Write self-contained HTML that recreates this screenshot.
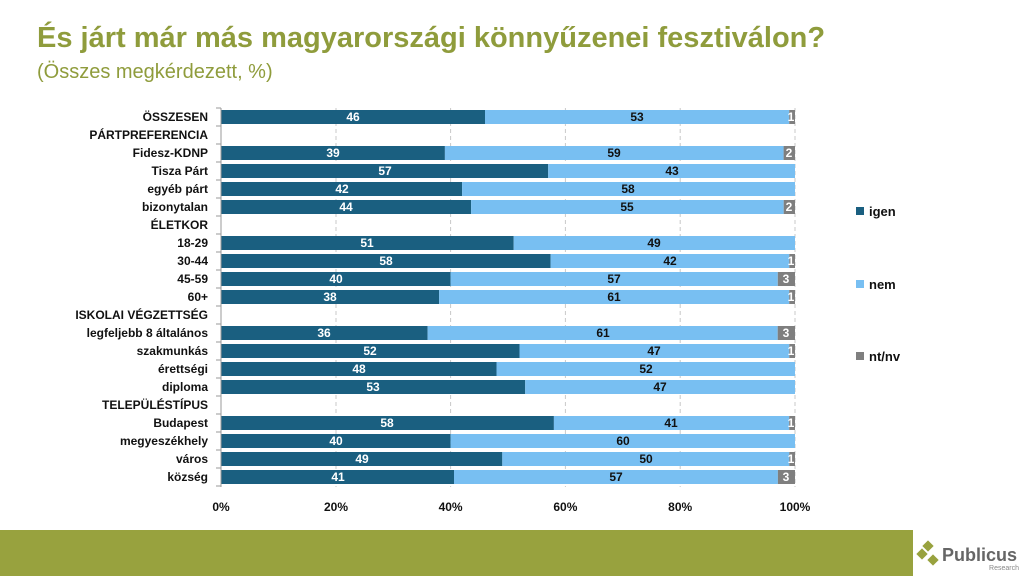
<!DOCTYPE html>
<html><head><meta charset="utf-8"><style>
body{margin:0;width:1024px;height:576px;overflow:hidden;background:#fff;font-family:"Liberation Sans",sans-serif}
</style></head><body>
<svg width="1024" height="576" xmlns="http://www.w3.org/2000/svg" font-family="Liberation Sans, sans-serif">
<text x="37" y="47" font-size="29" font-weight="bold" fill="#8f9c3c">És járt már más magyarországi könnyűzenei fesztiválon?</text>
<text x="37" y="78" font-size="20" fill="#8f9c3c">(Összes megkérdezett, %)</text>
<g stroke="#c8c8c8" stroke-dasharray="4,3">
<line x1="336" y1="108" x2="336" y2="487"/><line x1="450.6" y1="108" x2="450.6" y2="487"/><line x1="565.4" y1="108" x2="565.4" y2="487"/><line x1="680.2" y1="108" x2="680.2" y2="487"/><line x1="795" y1="108" x2="795" y2="487"/>
</g>
<g fill="#1a5f80">
<rect x="221" y="110" width="264" height="14"/>
<rect x="221" y="146" width="223.9" height="14"/>
<rect x="221" y="164" width="327.2" height="14"/>
<rect x="221" y="182" width="241.1" height="14"/>
<rect x="221" y="200" width="250.1" height="14"/>
<rect x="221" y="236" width="292.7" height="14"/>
<rect x="221" y="254" width="329.6" height="14"/>
<rect x="221" y="272" width="229.6" height="14"/>
<rect x="221" y="290" width="218.1" height="14"/>
<rect x="221" y="326" width="206.6" height="14"/>
<rect x="221" y="344" width="298.5" height="14"/>
<rect x="221" y="362" width="275.5" height="14"/>
<rect x="221" y="380" width="304.2" height="14"/>
<rect x="221" y="416" width="332.9" height="14"/>
<rect x="221" y="434" width="229.6" height="14"/>
<rect x="221" y="452" width="281.3" height="14"/>
<rect x="221" y="470" width="233" height="14"/>
</g>
<g fill="#78bff2">
<rect x="485" y="110" width="304.2" height="14"/>
<rect x="444.9" y="146" width="338.7" height="14"/>
<rect x="548.2" y="164" width="246.8" height="14"/>
<rect x="462.1" y="182" width="332.9" height="14"/>
<rect x="471.1" y="200" width="312.6" height="14"/>
<rect x="513.7" y="236" width="281.3" height="14"/>
<rect x="550.6" y="254" width="238.7" height="14"/>
<rect x="450.6" y="272" width="327.2" height="14"/>
<rect x="439.1" y="290" width="350.1" height="14"/>
<rect x="427.6" y="326" width="350.1" height="14"/>
<rect x="519.5" y="344" width="269.8" height="14"/>
<rect x="496.5" y="362" width="298.5" height="14"/>
<rect x="525.2" y="380" width="269.8" height="14"/>
<rect x="553.9" y="416" width="235.3" height="14"/>
<rect x="450.6" y="434" width="344.4" height="14"/>
<rect x="502.3" y="452" width="287" height="14"/>
<rect x="454" y="470" width="323.9" height="14"/>
</g>
<g fill="#7f7f7f">
<rect x="789.2" y="110" width="5.8" height="14"/>
<rect x="783.6" y="146" width="11.4" height="14"/>
<rect x="783.7" y="200" width="11.3" height="14"/>
<rect x="789.3" y="254" width="5.7" height="14"/>
<rect x="777.8" y="272" width="17.2" height="14"/>
<rect x="789.2" y="290" width="5.8" height="14"/>
<rect x="777.7" y="326" width="17.3" height="14"/>
<rect x="789.3" y="344" width="5.7" height="14"/>
<rect x="789.2" y="416" width="5.8" height="14"/>
<rect x="789.3" y="452" width="5.7" height="14"/>
<rect x="777.9" y="470" width="17.1" height="14"/>
</g>
<line x1="221" y1="108" x2="221" y2="487" stroke="#999"/>
<g stroke="#999">
<line x1="216" y1="108" x2="221" y2="108"/><line x1="216" y1="126" x2="221" y2="126"/><line x1="216" y1="144" x2="221" y2="144"/><line x1="216" y1="162" x2="221" y2="162"/><line x1="216" y1="180" x2="221" y2="180"/><line x1="216" y1="198" x2="221" y2="198"/><line x1="216" y1="216" x2="221" y2="216"/><line x1="216" y1="234" x2="221" y2="234"/><line x1="216" y1="252" x2="221" y2="252"/><line x1="216" y1="270" x2="221" y2="270"/><line x1="216" y1="288" x2="221" y2="288"/><line x1="216" y1="306" x2="221" y2="306"/><line x1="216" y1="324" x2="221" y2="324"/><line x1="216" y1="342" x2="221" y2="342"/><line x1="216" y1="360" x2="221" y2="360"/><line x1="216" y1="378" x2="221" y2="378"/><line x1="216" y1="396" x2="221" y2="396"/><line x1="216" y1="414" x2="221" y2="414"/><line x1="216" y1="432" x2="221" y2="432"/><line x1="216" y1="450" x2="221" y2="450"/><line x1="216" y1="468" x2="221" y2="468"/><line x1="216" y1="486" x2="221" y2="486"/>
</g>
<g font-size="12" font-weight="bold" fill="#111" text-anchor="end">
<text x="208" y="121">ÖSSZESEN</text><text x="208" y="139">PÁRTPREFERENCIA</text><text x="208" y="157">Fidesz-KDNP</text><text x="208" y="175">Tisza Párt</text><text x="208" y="193">egyéb párt</text><text x="208" y="211">bizonytalan</text><text x="208" y="229">ÉLETKOR</text><text x="208" y="247">18-29</text><text x="208" y="265">30-44</text><text x="208" y="283">45-59</text><text x="208" y="301">60+</text><text x="208" y="319">ISKOLAI VÉGZETTSÉG</text><text x="208" y="337">legfeljebb 8 általános</text><text x="208" y="355">szakmunkás</text><text x="208" y="373">érettségi</text><text x="208" y="391">diploma</text><text x="208" y="409">TELEPÜLÉSTÍPUS</text><text x="208" y="427">Budapest</text><text x="208" y="445">megyeszékhely</text><text x="208" y="463">város</text><text x="208" y="481">község</text>
</g>
<g font-size="12" font-weight="bold" fill="#fff" text-anchor="middle">
<text x="353" y="121">46</text><text x="333" y="157">39</text><text x="385" y="175">57</text><text x="342" y="193">42</text><text x="346" y="211">44</text><text x="367" y="247">51</text><text x="386" y="265">58</text><text x="336" y="283">40</text><text x="330" y="301">38</text><text x="324" y="337">36</text><text x="370" y="355">52</text><text x="359" y="373">48</text><text x="373" y="391">53</text><text x="387" y="427">58</text><text x="336" y="445">40</text><text x="362" y="463">49</text><text x="338" y="481">41</text>
<text x="791" y="121">1</text><text x="789" y="157">2</text><text x="789" y="211">2</text><text x="791" y="265">1</text><text x="786" y="283">3</text><text x="791" y="301">1</text><text x="786" y="337">3</text><text x="791" y="355">1</text><text x="791" y="427">1</text><text x="791" y="463">1</text><text x="786" y="481">3</text>
</g>
<g font-size="12" font-weight="bold" fill="#111" text-anchor="middle">
<text x="637" y="121">53</text><text x="614" y="157">59</text><text x="672" y="175">43</text><text x="628" y="193">58</text><text x="627" y="211">55</text><text x="654" y="247">49</text><text x="670" y="265">42</text><text x="614" y="283">57</text><text x="614" y="301">61</text><text x="603" y="337">61</text><text x="654" y="355">47</text><text x="646" y="373">52</text><text x="660" y="391">47</text><text x="671" y="427">41</text><text x="623" y="445">60</text><text x="646" y="463">50</text><text x="616" y="481">57</text>
</g>
<g font-size="12" font-weight="bold" fill="#111" text-anchor="middle">
<text x="221" y="511">0%</text><text x="336" y="511">20%</text><text x="450.6" y="511">40%</text><text x="565.4" y="511">60%</text><text x="680.2" y="511">80%</text><text x="795" y="511">100%</text>
</g>
<rect x="856" y="207" width="8" height="8" fill="#1a5f80"/><text x="869" y="216" font-size="13" font-weight="bold" fill="#111">igen</text>
<rect x="856" y="280" width="8" height="8" fill="#78bff2"/><text x="869" y="289" font-size="13" font-weight="bold" fill="#111">nem</text>
<rect x="856" y="352" width="8" height="8" fill="#7f7f7f"/><text x="869" y="361" font-size="13" font-weight="bold" fill="#111">nt/nv</text>
<rect x="0" y="530" width="913" height="46" fill="#98a23e"/>
<g fill="#98a23e">
<rect x="924" y="542" width="8" height="8" transform="rotate(45 928 546)"/>
<rect x="918" y="550" width="8" height="8" transform="rotate(45 922 554)"/>
<rect x="929" y="556" width="8" height="8" transform="rotate(45 933 560)"/>
</g>
<text x="942" y="561" font-size="18" font-weight="bold" fill="#666">Publicus</text>
<text x="1019" y="570" font-size="7" fill="#888" text-anchor="end">Research</text>
</svg>
</body></html>
